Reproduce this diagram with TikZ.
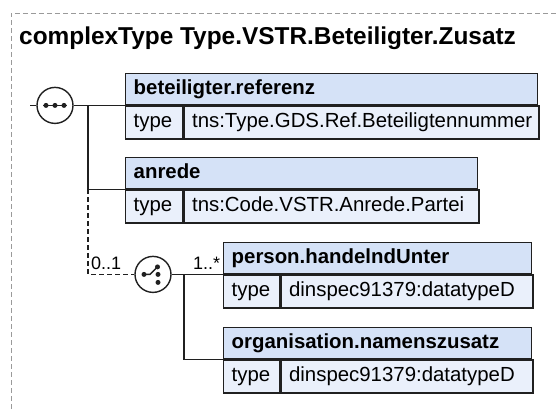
\documentclass[tikz,border=0pt]{standalone}
\usepackage{fontspec}
\setmainfont{Liberation Sans}
\usetikzlibrary{positioning}
\definecolor{headfill}{HTML}{D5E2F7}
\definecolor{cellfill}{HTML}{EAF0FB}
\definecolor{framegray}{HTML}{9A9A9A}
\definecolor{linedark}{HTML}{202020}

\begin{document}
\begin{tikzpicture}[
        x=1pt, y=-1pt,
        head/.style={rectangle, draw=linedark, fill=headfill, line width=1.4pt, anchor=north west, align=left, inner xsep=8pt, inner ysep=0pt, minimum height=31pt, text height=14pt, text depth=4pt, font=\bfseries\fontsize{20.4}{24}\selectfont},
        cell/.style={rectangle, draw=linedark, fill=cellfill, line width=1.4pt, align=left, inner xsep=8pt, inner ysep=0pt, minimum height=33pt, text height=14pt, text depth=4pt, font=\fontsize{20.4}{24}\selectfont},
        compositor/.style={circle, draw=linedark, fill=white, line width=1.4pt, minimum size=36pt, inner sep=0pt},
        conn/.style={draw=linedark, line width=1.4pt},
        mult/.style={anchor=base west, inner sep=0pt, font=\fontsize{18}{20}\selectfont}
    ]
    \useasboundingbox (0,0) rectangle (558,409);
    % frame and title
    \draw[framegray, line width=0.9pt, dash pattern=on 5pt off 3pt] (11,409) |- (558,13);
    \node (title) [anchor=base west, inner sep=0pt, font=\bfseries\fontsize{24.4}{28}\selectfont] at (19,45) {complexType Type.VSTR.Beteiligter.Zusatz};

    % Nodes
    \node (refHead) [head, text width=396pt] at (125,73) {beteiligter.referenz};
    \node (refType) [cell, text width=41pt, below=0pt of refHead.south west, anchor=north west] {type};
    \node (refVal) [cell, text width=339pt, right=0pt of refType] {tns:Type.GDS.Ref.Beteiligtennummer};

    \node (anrHead) [head, text width=336pt] at (125,157) {anrede};
    \node (anrType) [cell, text width=41pt, below=0pt of anrHead.south west, anchor=north west] {type};
    \node (anrVal) [cell, text width=279pt, right=0pt of anrType] {tns:Code.VSTR.Anrede.Partei};

    \node (perHead) [head, text width=292pt] at (223,242) {person.handelndUnter};
    \node (perType) [cell, text width=40pt, below=0pt of perHead.south west, anchor=north west] {type};
    \node (perVal) [cell, text width=236pt, right=0pt of perType] {dinspec91379:datatypeD};

    \node (orgHead) [head, text width=292pt] at (223,327) {organisation.namenszusatz};
    \node (orgType) [cell, text width=40pt, below=0pt of orgHead.south west, anchor=north west] {type};
    \node (orgVal) [cell, text width=236pt, right=0pt of orgType] {dinspec91379:datatypeD};

    \node (seq) [compositor] at ([xshift=-70pt]refType.north west) {};
    \node (choice) [compositor] at ([xshift=-70pt]perType.north west) {};
    \coordinate (entry) at ([xshift=-95pt]refType.north west);
    \coordinate (fork) at ([xshift=-37pt]refType.north west);
    \coordinate (forkB) at ([xshift=-39pt]perType.north west);

    % Connectors
    \draw[conn] (entry) -- (seq);
    \draw[conn] (seq) -- (refType.north west);
    \draw[conn] (fork) |- (anrType.north west);
    \draw[conn, line width=1.2pt, dash pattern=on 5pt off 3pt] (anrType.north west -| fork) |- (choice);
    \draw[conn] (choice) -- (perType.north west);
    \draw[conn] (forkB) |- (orgType.north west);
    \node (minOcc) [mult] at (91,270) {0..1};
    \node (maxOcc) [mult] at (193,270) {1..*};

    % compositor icons
    \draw[conn, line width=1.3pt, shift={(seq)}] (-12,0) -- (12,0);
    \fill[linedark, shift={(seq)}] (-9,0) circle (2.5pt) (0,0) circle (2.5pt) (9,0) circle (2.5pt);
    \draw[conn, line width=1.3pt, shift={(choice)}] (-9,0) -- (-3,0) -- (4.5,-7.5);
    \fill[linedark, shift={(choice)}] (-9,0) circle (2.5pt) (4.5,-7.5) circle (2.5pt) (5,0) circle (2.5pt) (5,8) circle (2.5pt);
\end{tikzpicture}
\end{document}
